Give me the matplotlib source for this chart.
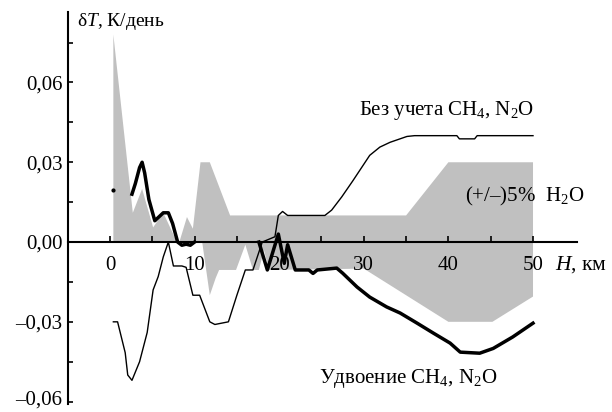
import matplotlib

matplotlib.use("Agg")
import matplotlib.pyplot as plt
import numpy as np
from matplotlib.transforms import ScaledTranslation

plt.rcParams["font.family"] = ["Liberation Serif", "DejaVu Serif"]
plt.rcParams["mathtext.fontset"] = "custom"
plt.rcParams["mathtext.rm"] = "Liberation Serif"
plt.rcParams["mathtext.it"] = "Liberation Serif:italic"

# grey band: (+/-)5% H2O
band_up_x = [0.4, 0.4, 2.7, 3.8, 5.1, 6.3, 7.7, 8.2, 9.1, 9.8, 10.7, 11.8, 14.2,
             35.0, 40.0, 50.0]
band_up_y = [0.0, 0.078, 0.011, 0.020, 0.0055, 0.011, 0.0015, 0.0, 0.0094, 0.005,
             0.030, 0.030, 0.010, 0.010, 0.030, 0.030]
band_lo_x = [0.4, 10.9, 11.8, 12.5, 12.9, 14.9, 16.0, 16.9, 17.6, 18.2, 18.8,
             30.0, 40.0, 45.2, 50.0]
band_lo_y = [0.0, 0.0, -0.020, -0.0135, -0.0105, -0.0105, -0.001, -0.0105,
             -0.0105, -0.003, -0.0105, -0.010, -0.030, -0.030, -0.0205]

# thin line: without CH4, N2O
base_x = [0.4, 0.9, 1.8, 2.1, 2.6, 3.5, 4.4, 5.1, 5.7, 6.3, 6.9, 7.5, 8.5, 9.0,
          9.8, 10.6, 11.8, 12.4, 14.0, 15.0, 16.0, 16.9, 18.0, 19.5, 19.9, 20.4,
          21.0, 25.4, 26.2, 27.4, 28.7, 30.7, 31.9, 33.1, 35.1, 36.0, 41.0, 41.3,
          43.1, 43.4, 50.0]
base_y = [-0.030, -0.030, -0.0416, -0.050, -0.052, -0.045, -0.034, -0.018,
          -0.013, -0.0056, 0.0, -0.009, -0.009, -0.0095, -0.020, -0.020, -0.030,
          -0.031, -0.030, -0.020, -0.0105, -0.0105, 0.0, 0.002, 0.010, 0.0115,
          0.010, 0.010, 0.012, 0.017, 0.023, 0.0326, 0.0357, 0.0375, 0.0397,
          0.040, 0.040, 0.0388, 0.0388, 0.040, 0.040]

# thick line: doubled CH4, N2O (gap where it runs along the axis)
dbl_x = [2.6, 3.0, 3.5, 3.8, 4.1, 4.6, 5.3, 5.8, 6.3, 6.9, 7.4, 8.0, 8.5, 9.0,
         9.5, 10.0, 14.0, 17.6, 18.6, 19.9, 20.6, 21.0, 21.9, 23.5, 24.0, 24.5,
         26.8, 27.5, 29.2, 30.7, 32.7, 34.3, 36.3, 38.2, 40.2, 41.4, 43.7, 45.3,
         47.6, 50.0]
dbl_y = [0.018, 0.022, 0.028, 0.030, 0.026, 0.016, 0.008, 0.0095, 0.011, 0.011,
         0.007, 0.0, -0.0012, -0.0008, -0.0012, 0.0, np.nan, 0.0, -0.0105, 0.003,
         -0.008, -0.001, -0.0105, -0.0105, -0.0118, -0.0105, -0.0098, -0.0117,
         -0.0169, -0.0207, -0.0244, -0.0267, -0.0305, -0.0342, -0.038, -0.0414,
         -0.0418, -0.040, -0.0357, -0.0305]
dbl_start = (0.4, 0.0195)

x_major = [0, 10, 20, 30, 40, 50]
x_minor = [5, 15, 25, 35, 45]
y_major = [0.06, 0.03, 0.0, -0.03, -0.06]
y_labels = ["0,06", "0,03", "0,00", "\u20130,03", "\u20130,06"]
y_minor = [0.075, 0.045, 0.015, -0.015, -0.045]

fig = plt.figure(figsize=(6.12, 4.12), dpi=100)
ax = fig.add_axes([68 / 612, 8 / 412, 509 / 612, 392 / 412])
ax.set_xlim(-4.96, 55.2)
ax.set_ylim(-0.0609, 0.0865)

ax.fill(np.r_[band_up_x, band_lo_x[::-1]], np.r_[band_up_y, band_lo_y[::-1]],
        color="#c0c0c0", linewidth=0, zorder=1)
ax.plot(base_x, base_y, color="black", linewidth=1.0, zorder=3)
ax.plot(dbl_x, dbl_y, color="black", linewidth=2.5, zorder=3,
        solid_joinstyle="round")
ax.plot(*dbl_start, "o", color="black", markersize=2, zorder=3)

for side in ("top", "right"):
    ax.spines[side].set_visible(False)
ax.spines["bottom"].set_position(("data", 0))
ax.spines["bottom"].set_zorder(4)
ax.spines["left"].set_linewidth(1.5)
ax.spines["bottom"].set_linewidth(1.5)

ax.set_xticks(x_major)
ax.set_xticks(x_minor, minor=True)
ax.set_yticks(y_major, labels=y_labels)
ax.set_yticks(y_minor, minor=True)
ax.tick_params(axis="x", which="both", direction="in", width=1.2, length=4,
               labelsize=15, pad=10)
ax.tick_params(axis="y", which="both", direction="in", width=1.2, length=3.5,
               labelsize=15, pad=4)

# keep the lowest label inside the picture
low = ax.get_yticklabels()[-1]
low.set_transform(low.get_transform()
                  + ScaledTranslation(0, 3 / 72, fig.dpi_scale_trans))

ax.text(-3.9, 0.0830, "\u03b4$T$, К/день", fontsize=14, ha="left", va="center")
ax.text(52.6, -0.0085, "$H$, км", fontsize=15.5, ha="left", va="center")
ax.text(39.8, 0.0495, "Без учета CH$_4$, N$_2$O", fontsize=15, ha="center",
        va="center")
ax.text(49.0, 0.0170, "(+/\u2013)5%  H$_2$O", fontsize=15, ha="center",
        va="center")
ax.text(35.3, -0.0512, "Удвоение CH$_4$, N$_2$O", fontsize=15, ha="center",
        va="center")

fig.savefig("out.png", dpi=100)
